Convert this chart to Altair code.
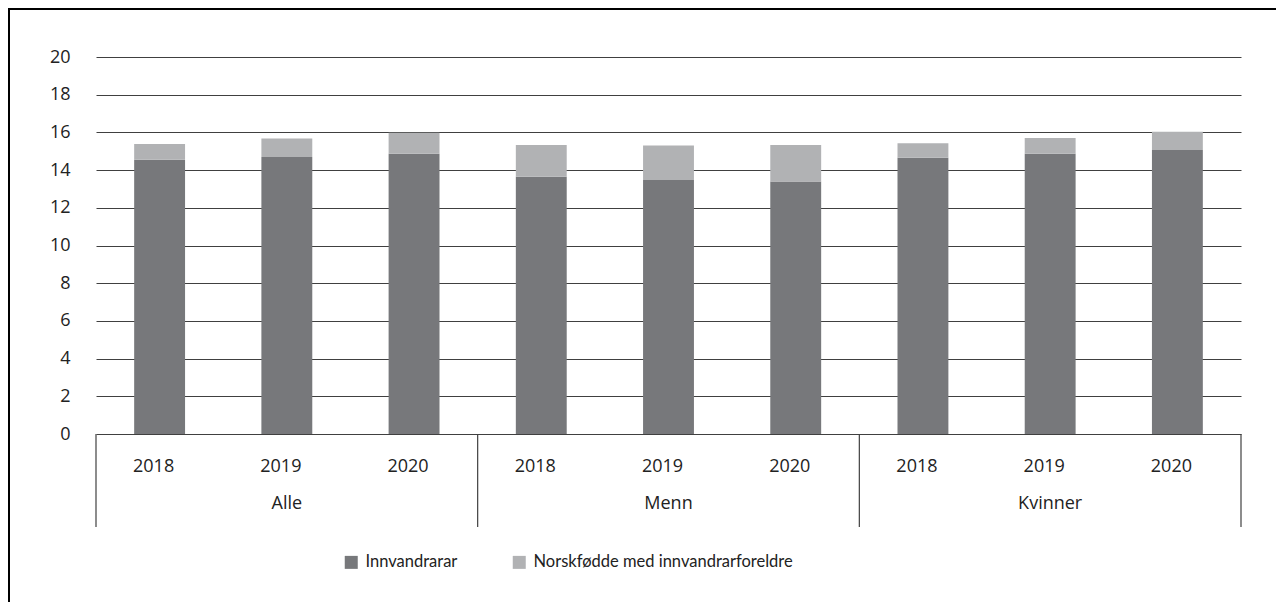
import altair as alt
import pandas as pd

groups = ["Alle", "Menn", "Kvinner"]
years = ["2018", "2019", "2020"]
series = ["Innvandrarar", "Norskfødde med innvandrarforeldre"]
colors = ["#77787b", "#b1b2b4"]

# values per group, per year
innvandrarar = [14.55, 14.70, 14.87,  13.65, 13.47, 13.39,  14.66, 14.87, 15.07]
norskfodde = [0.83, 0.97, 1.11,  1.68, 1.83, 1.94,  0.76, 0.83, 0.97]

y_ticks = [0, 2, 4, 6, 8, 10, 12, 14, 16, 18, 20]

W, H = 1145, 377
FONT = "Open Sans"

rows = []
labels = []
for gi, g in enumerate(groups):
    for yi, yr in enumerate(years):
        idx = gi * len(years) + yi
        labels.append({"idx": idx, "year": yr})
        base = 0.0
        for si, (s, vals) in enumerate(zip(series, [innvandrarar, norskfodde])):
            v = vals[idx]
            rows.append({"idx": idx, "lo": idx - 0.2, "hi": idx + 0.2, "group": g, "year": yr,
                         "serie": s, "y0": base, "y1": base + v, "value": v})
            base += v
df = pd.DataFrame(rows)
lab_df = pd.DataFrame(labels)
grp_df = pd.DataFrame({"group": groups,
                       "mid": [gi * len(years) + (len(years) - 1) / 2 for gi in range(len(groups))]})
sep_df = pd.DataFrame({"b": [gi * len(years) - 0.5 for gi in range(len(groups) + 1)]})

n = len(groups) * len(years)
xscale = alt.Scale(domain=[-0.5, n - 0.5], nice=False, zero=False)

bars = alt.Chart(df).mark_rect().encode(
    x=alt.X("lo:Q", scale=xscale, axis=None),
    x2="hi:Q",
    y=alt.Y("y0:Q",
            scale=alt.Scale(domain=[0, 20], nice=False),
            axis=alt.Axis(values=y_ticks, title=None, domain=False, ticks=False,
                          labelPadding=26, labelFontSize=18, labelColor="#222222",
                          grid=True, gridColor="#404040", gridWidth=1)),
    y2="y1:Q",
    color=alt.Color("serie:N", scale=alt.Scale(domain=series, range=colors),
                    legend=alt.Legend(title=None, orient="none", legendX=247, legendY=497,
                                      direction="horizontal", symbolType="square",
                                      symbolSize=169, symbolStrokeWidth=0,
                                      labelFont="Lato", labelFontSize=16.5,
                                      labelColor="#222222", labelLimit=0,
                                      labelOffset=6, columnPadding=53)),
)

year_text = alt.Chart(lab_df).mark_text(fontSize=18, color="#222222", baseline="middle", dx=-6).encode(
    x=alt.X("idx:Q", scale=xscale),
    y=alt.value(H + 33),
    text="year:N",
)

group_text = alt.Chart(grp_df).mark_text(fontSize=18, color="#222222", baseline="middle").encode(
    x=alt.X("mid:Q", scale=xscale),
    y=alt.value(H + 70),
    text="group:N",
)

seps = alt.Chart(sep_df).mark_rule(color="#404040", strokeWidth=1.2).encode(
    x=alt.X("b:Q", scale=xscale),
    y=alt.value(H),
    y2=alt.value(H + 93),
)

border_top = alt.Chart(alt.Data(values=[{}])).mark_rule(color="#000000", strokeWidth=2).encode(
    x=alt.value(-88), x2=alt.value(W + 35), y=alt.value(-48))
border_left = alt.Chart(alt.Data(values=[{}])).mark_rule(color="#000000", strokeWidth=2).encode(
    x=alt.value(-87), y=alt.value(-49), y2=alt.value(H + 168))

chart = alt.layer(bars, seps, year_text, group_text, border_top, border_left).properties(
    width=W, height=H,
    autosize=alt.AutoSizeParams(type="none"),
    padding={"left": 88, "top": 49, "right": 35, "bottom": 168},
).configure(font=FONT).configure_view(stroke=None)

chart.save("out.html", embed_options={"renderer": "svg", "actions": False})
